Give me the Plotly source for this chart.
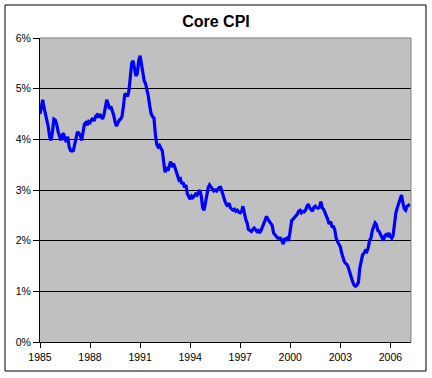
import pandas as pd
import plotly.graph_objects as go

# Monthly core CPI (year-over-year %), Jan 1985 .. Mar 2007
core_cpi = [
    # 1985
    4.50, 4.68, 4.78, 4.62, 4.50, 4.40, 4.25, 4.05, 3.98, 4.15, 4.40, 4.38,
    # 1986
    4.30, 4.15, 4.05, 3.98, 4.08, 4.12, 4.00, 3.95, 4.05, 3.85, 3.78, 3.77,
    # 1987
    3.78, 3.90, 4.05, 4.15, 4.12, 4.08, 3.98, 4.18, 4.30, 4.33, 4.28, 4.35,
    # 1988
    4.33, 4.38, 4.42, 4.36, 4.45, 4.48, 4.43, 4.50, 4.45, 4.40, 4.48, 4.65,
    # 1989
    4.78, 4.70, 4.60, 4.65, 4.58, 4.48, 4.35, 4.26, 4.32, 4.38, 4.40, 4.45,
    # 1990
    4.65, 4.90, 4.88, 4.85, 4.95, 5.25, 5.50, 5.55, 5.40, 5.25, 5.30, 5.55,
    # 1991
    5.65, 5.45, 5.25, 5.15, 5.10, 4.98, 4.85, 4.65, 4.50, 4.45, 4.42, 4.10,
    # 1992
    3.90, 3.85, 3.88, 3.82, 3.78, 3.55, 3.35, 3.45, 3.38, 3.48, 3.56, 3.45,
    # 1993
    3.52, 3.45, 3.35, 3.28, 3.20, 3.22, 3.12, 3.15, 3.05, 3.10, 2.92, 2.85,
    # 1994
    2.82, 2.88, 2.85, 2.88, 2.92, 2.90, 2.95, 3.00, 2.88, 2.65, 2.60, 2.78,
    # 1995
    2.95, 3.05, 3.10, 3.05, 3.02, 2.98, 3.00, 2.98, 3.02, 3.05, 3.05, 2.95,
    # 1996
    2.85, 2.78, 2.72, 2.68, 2.74, 2.65, 2.62, 2.60, 2.62, 2.58, 2.60, 2.56,
    # 1997
    2.55, 2.58, 2.68, 2.50, 2.42, 2.35, 2.22, 2.20, 2.18, 2.22, 2.25, 2.22,
    # 1998
    2.18, 2.20, 2.15, 2.20, 2.27, 2.30, 2.40, 2.48, 2.42, 2.38, 2.32, 2.30,
    # 1999
    2.15, 2.12, 2.08, 2.05, 2.05, 2.05, 2.00, 1.93, 2.05, 2.00, 2.05, 2.03,
    # 2000
    2.20, 2.40, 2.42, 2.45, 2.50, 2.52, 2.58, 2.60, 2.55, 2.58, 2.57, 2.60,
    # 2001
    2.68, 2.72, 2.65, 2.60, 2.58, 2.66, 2.68, 2.65, 2.64, 2.66, 2.77, 2.65,
    # 2002
    2.62, 2.55, 2.50, 2.42, 2.33, 2.38, 2.28, 2.28, 2.22, 2.05, 1.98, 1.92,
    # 2003
    1.88, 1.75, 1.65, 1.58, 1.55, 1.52, 1.45, 1.35, 1.22, 1.18, 1.12, 1.10,
    # 2004
    1.12, 1.18, 1.45, 1.62, 1.72, 1.75, 1.80, 1.78, 1.85, 2.00, 2.05, 2.20,
    # 2005
    2.30, 2.35, 2.32, 2.20, 2.18, 2.12, 2.05, 2.00, 2.10, 2.12, 2.10, 2.15,
    # 2006
    2.08, 2.05, 2.10, 2.35, 2.55, 2.65, 2.75, 2.80, 2.90, 2.75, 2.63, 2.60,
    # 2007
    2.68, 2.70, 2.72,
]

months = pd.date_range("1985-01-01", periods=len(core_cpi), freq="MS")
x_ticks = ["1985", "1988", "1991", "1994", "1997", "2000", "2003", "2006"]
y_ticks = [0, 1, 2, 3, 4, 5, 6]
y_tick_text = ["0%", "1%", "2%", "3%", "4%", "5%", "6%"]

fig = go.Figure()
fig.add_trace(go.Scatter(
    x=months, y=core_cpi, mode="lines",
    line=dict(color="#0000FF", width=3.2),
    hoverinfo="x+y", showlegend=False,
))

font_family = "Liberation Sans, Arial, sans-serif"
fig.update_layout(
    width=432, height=378,
    margin=dict(l=40, r=21, t=38, b=36),
    paper_bgcolor="white",
    plot_bgcolor="#C0C0C0",
    title=dict(text="<b>Core CPI</b>", x=0.5, xanchor="center",
               y=1 - 21 / 378, yanchor="middle",
               font=dict(family=font_family, size=16, color="black")),
    font=dict(family=font_family, size=10, color="black"),
    xaxis=dict(
        type="date",
        range=["1985-01-01", "2007-03-28"],
        tickvals=[pd.Timestamp(f"{y}-01-01") for y in x_ticks],
        ticktext=x_ticks,
        ticks="outside", ticklen=5, tickcolor="black", tickwidth=1,
        showline=True, linecolor="black", linewidth=1,
        showgrid=False, zeroline=False,
        tickfont=dict(family=font_family, size=10.5, color="black"),
    ),
    yaxis=dict(
        range=[0, 6],
        tickvals=y_ticks, ticktext=y_tick_text,
        ticks="outside", ticklen=6, tickcolor="black", tickwidth=1,
        showline=True, linecolor="black", linewidth=1,
        showgrid=True, gridcolor="black", gridwidth=1,
        zeroline=False,
        tickfont=dict(family=font_family, size=10.5, color="black"),
    ),
    shapes=[
        # plot-area border (top and right, grey)
        dict(type="line", xref="paper", yref="paper", x0=0, x1=1, y0=1, y1=1,
             line=dict(color="#808080", width=1), layer="above"),
        dict(type="line", xref="paper", yref="paper", x0=1, x1=1, y0=0, y1=1,
             line=dict(color="#808080", width=1), layer="above"),
        # chart outer border
        dict(type="rect", xref="paper", yref="paper",
             x0=(5 - 40) / 371, x1=(426 - 40) / 371,
             y0=(342 - 371) / 304, y1=(342 - 5) / 304,
             line=dict(color="black", width=1), fillcolor="rgba(0,0,0,0)",
             layer="above"),
    ],
)

fig.write_html(
    "out.html",
    config={"displayModeBar": False},
    post_script="document.body.style.margin='0';document.body.style.padding='0';",
)
